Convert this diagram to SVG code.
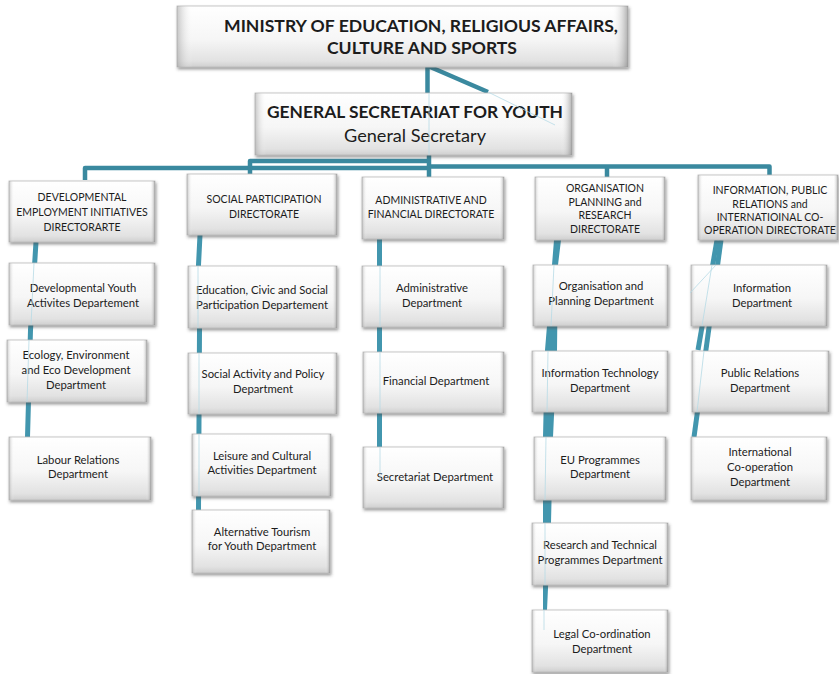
<svg xmlns="http://www.w3.org/2000/svg" width="839" height="674" viewBox="0 0 839 674">
  <defs>
    <linearGradient id="face" x1="0" y1="0" x2="0" y2="1">
      <stop offset="0" stop-color="#ffffff"/>
      <stop offset="0.55" stop-color="#f6f6f6"/>
      <stop offset="0.9" stop-color="#e2e2e2"/>
      <stop offset="1" stop-color="#cfcfcf"/>
    </linearGradient>
    <linearGradient id="sides" x1="0" y1="0" x2="1" y2="0">
      <stop offset="0" stop-color="#9a9a9a" stop-opacity="0.55"/>
      <stop offset="0.035" stop-color="#ffffff" stop-opacity="0"/>
      <stop offset="0.965" stop-color="#ffffff" stop-opacity="0"/>
      <stop offset="1" stop-color="#7a7a7a" stop-opacity="0.6"/>
    </linearGradient>
    <filter id="shadow" x="-10%" y="-10%" width="120%" height="130%">
      <feDropShadow dx="1" dy="2" stdDeviation="1.4" flood-color="#444" flood-opacity="0.55"/>
    </filter>
  </defs>
  <style>
    .box { fill: url(#face); stroke: #b9b9b9; stroke-width: 0.8; filter: url(#shadow); }
    .bevel { fill: url(#sides); stroke: none; }
    .base { fill: none; stroke: #8a8a8a; stroke-width: 1.2; }
    text { font-family: Lato, "Open Sans", "Liberation Sans", sans-serif; fill: #1c1c1c; text-anchor: middle; }
    .h1 { font-size: 17.5px; font-weight: bold; }
    .h2 { font-size: 17.5px; font-weight: bold; }
    .h2s { font-size: 17.5px; }
    .dir { font-size: 10.5px; }
    .dep { font-size: 11.3px; }
    .bus { fill: none; stroke: #3a899f; stroke-width: 4.5; stroke-linejoin: round; }
    .col { fill: none; stroke: #4296ae; stroke-width: 5; }
    .colfill { fill: #4296ae; }
    .pale { fill: none; stroke: #b6dbe6; stroke-width: 0.8; }
  </style>

  <!-- connectors -->
  <g id="connectors">
    <!-- ministry to general secretariat -->
    <path class="bus" d="M427.5,66 V93"/>
    <path class="bus" d="M428,66 L488,92"/>
    <!-- secretariat bus to directorates -->
    <path class="bus" d="M85,180 V168 H429"/>
    <path class="bus" d="M250,174 V161 H429"/>
    <path class="bus" d="M429,154 V177"/>
    <path class="bus" d="M429,166.5 H769.5 V177"/>
    <path class="bus" d="M607,166.5 V177"/>
    <!-- column drops -->
    <polyline class="col" points="36,242 30.5,330 27.5,437"/>
    <polyline class="col" points="200,235 198.5,265 199.5,330 198.5,510"/>
    <path class="col" d="M379.5,239 V447"/>
    <polygon class="colfill" points="554,240 561,240 558,265 557,350 553,437 551,523 547,610 543,610 543,523 543,437 545,350 552,265"/>
    <path class="col" d="M717,240 L698,350"/>
    <path class="col" d="M721,240 L694,437"/>
  </g>

  <!-- top level -->
  <g id="ministry">
    <rect class="box" x="177" y="6" width="451" height="61"/>
    <rect class="bevel" x="177" y="6" width="451" height="61"/>
    <text class="h1" x="421" y="32" textLength="394" lengthAdjust="spacingAndGlyphs">MINISTRY OF EDUCATION, RELIGIOUS AFFAIRS,</text>
    <text class="h1" x="422" y="54" textLength="190" lengthAdjust="spacingAndGlyphs">CULTURE AND SPORTS</text>
  </g>

  <g id="general-secretariat">
    <rect class="box" x="255" y="93" width="317" height="62"/>
    <rect class="bevel" x="255" y="93" width="317" height="62"/>
    <text class="h2" x="415" y="118" textLength="296" lengthAdjust="spacingAndGlyphs">GENERAL SECRETARIAT FOR YOUTH</text>
    <text class="h2s" x="415" y="142" textLength="142" lengthAdjust="spacingAndGlyphs">General Secretary</text>
  </g>

  <!-- directorates -->
  <g id="dir-developmental">
    <rect class="box" x="9" y="181" width="146" height="61"/>
    <rect class="bevel" x="9" y="181" width="146" height="61"/>
    <text class="dir" x="82" y="201">DEVELOPMENTAL</text>
    <text class="dir" x="82" y="216">EMPLOYMENT INITIATIVES</text>
    <text class="dir" x="82" y="231">DIRECTORARTE</text>
  </g>
  <g id="dir-social">
    <rect class="box" x="187" y="174" width="150" height="61"/>
    <rect class="bevel" x="187" y="174" width="150" height="61"/>
    <text class="dir" x="264" y="203">SOCIAL PARTICIPATION</text>
    <text class="dir" x="264" y="218">DIRECTORATE</text>
  </g>
  <g id="dir-administrative">
    <rect class="box" x="362" y="177" width="142" height="62"/>
    <rect class="bevel" x="362" y="177" width="142" height="62"/>
    <text class="dir" x="431" y="204">ADMINISTRATIVE AND</text>
    <text class="dir" x="431" y="218">FINANCIAL DIRECTORATE</text>
  </g>
  <g id="dir-organisation">
    <rect class="box" x="535" y="177" width="130" height="63"/>
    <rect class="bevel" x="535" y="177" width="130" height="63"/>
    <text class="dir" x="605" y="192">ORGANISATION</text>
    <text class="dir" x="605" y="206">PLANNING and</text>
    <text class="dir" x="605" y="219">RESEARCH</text>
    <text class="dir" x="605" y="233">DIRECTORATE</text>
  </g>
  <g id="dir-information">
    <rect class="box" x="698" y="175" width="140" height="65"/>
    <rect class="bevel" x="698" y="175" width="140" height="65"/>
    <text class="dir" x="770" y="194">INFORMATION, PUBLIC</text>
    <text class="dir" x="770" y="208">RELATIONS and</text>
    <text class="dir" x="770" y="221">INTERNATIOINAL CO-</text>
    <text class="dir" x="770" y="234">OPERATION DIRECTORATE</text>
  </g>

  <!-- column 1 departments -->
  <g id="dep-youth-activities">
    <rect class="box" x="9" y="263" width="146" height="62"/>
    <rect class="bevel" x="9" y="263" width="146" height="62"/>
    <text class="dep" x="83" y="292">Developmental Youth</text>
    <text class="dep" x="83" y="307">Activites Departement</text>
  </g>
  <g id="dep-ecology">
    <rect class="box" x="7" y="340" width="140" height="62"/>
    <rect class="bevel" x="7" y="340" width="140" height="62"/>
    <text class="dep" x="76" y="359">Ecology, Environment</text>
    <text class="dep" x="76" y="374">and Eco Development</text>
    <text class="dep" x="76" y="389">Department</text>
  </g>
  <g id="dep-labour">
    <rect class="box" x="9" y="437" width="142" height="63"/>
    <rect class="bevel" x="9" y="437" width="142" height="63"/>
    <text class="dep" x="78" y="464">Labour Relations</text>
    <text class="dep" x="78" y="478">Department</text>
  </g>

  <!-- column 2 departments -->
  <g id="dep-civic">
    <rect class="box" x="188" y="266" width="149" height="62"/>
    <rect class="bevel" x="188" y="266" width="149" height="62"/>
    <text class="dep" x="262" y="294">Education, Civic and Social</text>
    <text class="dep" x="262" y="309">Participation Departement</text>
  </g>
  <g id="dep-social-activity">
    <rect class="box" x="188" y="353" width="149" height="61"/>
    <rect class="bevel" x="188" y="353" width="149" height="61"/>
    <text class="dep" x="263" y="378">Social Activity and Policy</text>
    <text class="dep" x="263" y="393">Department</text>
  </g>
  <g id="dep-leisure">
    <rect class="box" x="192" y="434" width="139" height="62"/>
    <rect class="bevel" x="192" y="434" width="139" height="62"/>
    <text class="dep" x="262" y="460">Leisure and Cultural</text>
    <text class="dep" x="262" y="474">Activities Department</text>
  </g>
  <g id="dep-tourism">
    <rect class="box" x="192" y="510" width="138" height="63"/>
    <rect class="bevel" x="192" y="510" width="138" height="63"/>
    <text class="dep" x="262" y="536">Alternative Tourism</text>
    <text class="dep" x="262" y="550">for Youth Department</text>
  </g>

  <!-- column 3 departments -->
  <g id="dep-administrative">
    <rect class="box" x="362" y="266" width="142" height="61"/>
    <rect class="bevel" x="362" y="266" width="142" height="61"/>
    <text class="dep" x="432" y="292">Administrative</text>
    <text class="dep" x="432" y="307">Department</text>
  </g>
  <g id="dep-financial">
    <rect class="box" x="363" y="352" width="141" height="61"/>
    <rect class="bevel" x="363" y="352" width="141" height="61"/>
    <text class="dep" x="436" y="385">Financial Department</text>
  </g>
  <g id="dep-secretariat">
    <rect class="box" x="363" y="447" width="141" height="61"/>
    <rect class="bevel" x="363" y="447" width="141" height="61"/>
    <text class="dep" x="435" y="481">Secretariat Department</text>
  </g>

  <!-- column 4 departments -->
  <g id="dep-organisation-planning">
    <rect class="box" x="533" y="265" width="135" height="61"/>
    <rect class="bevel" x="533" y="265" width="135" height="61"/>
    <text class="dep" x="601" y="290">Organisation and</text>
    <text class="dep" x="601" y="305">Planning Department</text>
  </g>
  <g id="dep-it">
    <rect class="box" x="532" y="351" width="136" height="61"/>
    <rect class="bevel" x="532" y="351" width="136" height="61"/>
    <text class="dep" x="600" y="377">Information Technology</text>
    <text class="dep" x="600" y="392">Department</text>
  </g>
  <g id="dep-eu">
    <rect class="box" x="534" y="437" width="132" height="63"/>
    <rect class="bevel" x="534" y="437" width="132" height="63"/>
    <text class="dep" x="600" y="464">EU Programmes</text>
    <text class="dep" x="600" y="478">Department</text>
  </g>
  <g id="dep-research">
    <rect class="box" x="532" y="523" width="136" height="62"/>
    <rect class="bevel" x="532" y="523" width="136" height="62"/>
    <text class="dep" x="600" y="549">Research and Technical</text>
    <text class="dep" x="600" y="564">Programmes Department</text>
  </g>
  <g id="dep-legal">
    <rect class="box" x="532" y="610" width="136" height="62"/>
    <rect class="bevel" x="532" y="610" width="136" height="62"/>
    <text class="dep" x="602" y="638">Legal Co-ordination</text>
    <text class="dep" x="602" y="653">Department</text>
  </g>

  <!-- column 5 departments -->
  <g id="dep-information">
    <rect class="box" x="691" y="265" width="136" height="61"/>
    <rect class="bevel" x="691" y="265" width="136" height="61"/>
    <text class="dep" x="762" y="292">Information</text>
    <text class="dep" x="762" y="307">Department</text>
  </g>
  <g id="dep-public-relations">
    <rect class="box" x="692" y="351" width="137" height="61"/>
    <rect class="bevel" x="692" y="351" width="137" height="61"/>
    <text class="dep" x="760" y="377">Public Relations</text>
    <text class="dep" x="760" y="392">Department</text>
  </g>
  <g id="dep-international">
    <rect class="box" x="691" y="437" width="136" height="63"/>
    <rect class="bevel" x="691" y="437" width="136" height="63"/>
    <text class="dep" x="760" y="456">International</text>
    <text class="dep" x="760" y="471">Co-operation</text>
    <text class="dep" x="760" y="486">Department</text>
  </g>

  <!-- faint traces of the drop lines running behind the boxes -->
  <g id="connector-traces">
    <path class="pale" d="M429,93 V155"/>
    <path class="pale" d="M488,92 L555,125"/>
    <polyline class="pale" points="34,263 31,325"/>
    <polyline class="pale" points="29,340 27,402"/>
    <polyline class="pale" points="198,266 198,328"/>
    <polyline class="pale" points="199,353 199,414"/>
    <polyline class="pale" points="199,434 199,496"/>
    <path class="pale" d="M380,266 V327 M380,352 V413 M380,447 V480"/>
    <path class="pale" d="M554,265 L551,326 M548,351 L547,412 M546,437 L545,500 M545,523 L545,585 M544,610 V630"/>
    <path class="pale" d="M712,265 L702,326 M716,265 L690,293 M704,351 L697,412"/>
  </g>
</svg>
